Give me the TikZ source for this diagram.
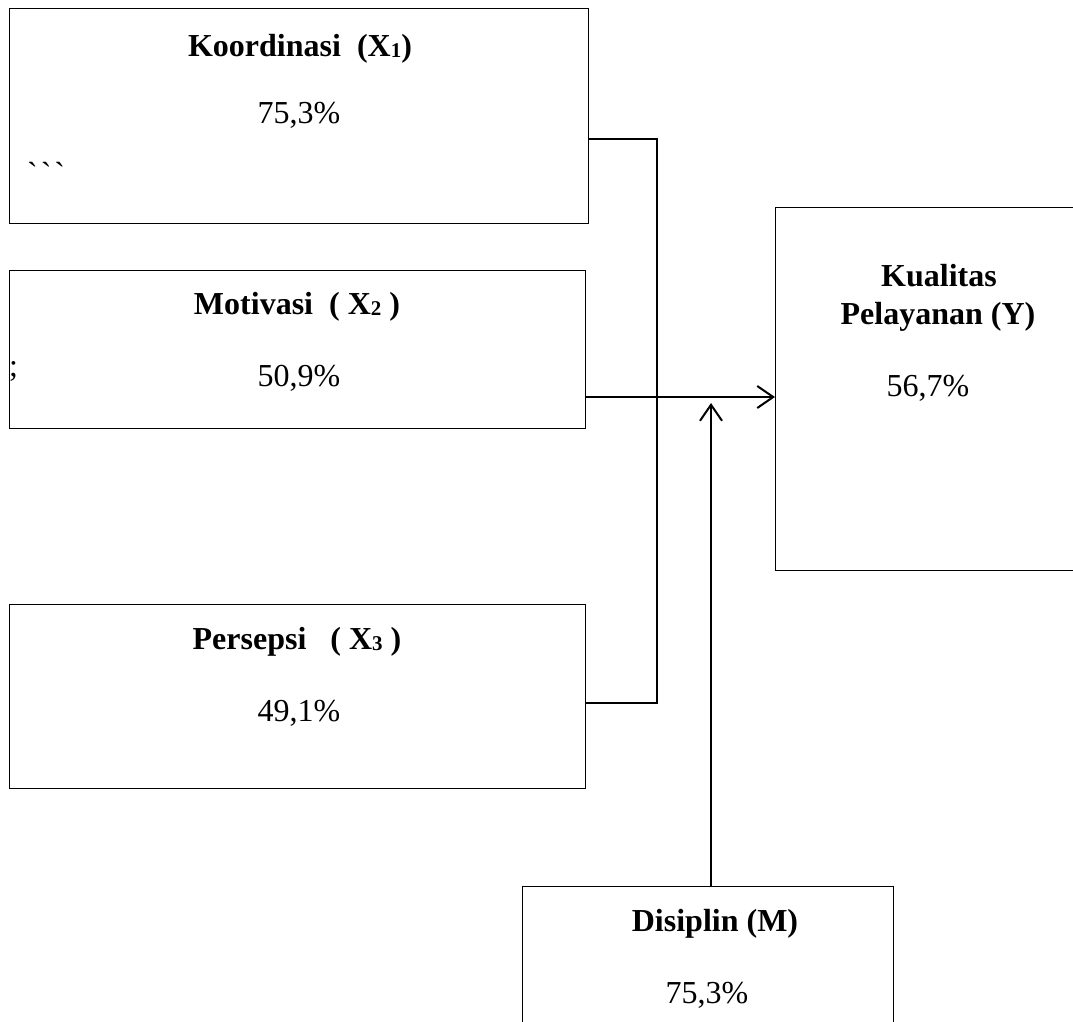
\documentclass[tikz,border=0pt]{standalone}
\usepackage{fontspec}
\setmainfont{Liberation Serif}
\newfontfamily\rawserif{Liberation Serif}
\usetikzlibrary{arrows.meta}
\newcommand{\smalldigit}[1]{{\fontsize{21}{21}\selectfont\raisebox{-1pt}{#1}}}
\begin{document}
\begin{tikzpicture}[x=1pt,y=-1pt,
  box/.style={draw, line width=1.4pt, inner sep=0pt, anchor=north west},
  ttl/.style={anchor=base, inner sep=0pt, font=\fontsize{32}{38}\selectfont\bfseries},
  val/.style={anchor=base, inner sep=0pt, font=\fontsize{32}{38}\selectfont},
  conn/.style={line width=2pt},
  arr/.style={line width=2pt, -{Straight Barb[length=16pt,width=22pt,line width=2pt]}}]
\useasboundingbox (0,0) rectangle (1073,1021);
% boxes
\node[box, minimum width=579pt, minimum height=215pt] (X1) at (9,8) {};
\node[box, minimum width=576pt, minimum height=158pt] (X2) at (9,270) {};
\node[box, minimum width=576pt, minimum height=184pt] (X3) at (9,604) {};
\node[box, minimum width=320pt, minimum height=363pt] (Y) at (775,207) {};
\node[box, minimum width=371pt, minimum height=160pt] (M) at (522,886) {};
% texts
\node[ttl] (t1) at (300,56) {Koordinasi\ \ (X\smalldigit{1})};
\node[val] (v1) at (299,123) {75,3\%};
\node[val, anchor=base west] (g1) at (27,184) {\rawserif `{}\kern3pt`{}\kern3pt`};
\node[ttl] (t2) at (297,314) {Motivasi\ \ ( X\smalldigit{2} )};
\node[val] (v2) at (299,386) {50,9\%};
\node[val, anchor=base west] (s2) at (9,376) {;};
\node[ttl] (t3) at (297,649) {Persepsi\ \ \ ( X\smalldigit{3} )};
\node[val] (v3) at (299,721) {49,1\%};
\node[ttl] (ty1) at (939,286) {Kualitas};
\node[ttl] (ty2) at (938,324) {Pelayanan (Y)};
\node[val] (vy) at (928,396) {56,7\%};
\node[ttl] (tm) at (715,931) {Disiplin (M)};
\node[val] (vm) at (707,1003) {75,3\%};
% connectors
\coordinate (j1) at (657,139);
\coordinate (j3) at (657,703);
\coordinate (tip) at (711,403);
\draw[conn] ([yshift=-131pt]X1.north east) -- (j1) -- (j3) -- ([yshift=-99pt]X3.north east);
\draw[arr] ([yshift=-127pt]X2.north east) -- ([yshift=-190pt]Y.north west);
\draw[arr] (M.north -| tip) -- (tip);
\end{tikzpicture}
\end{document}
